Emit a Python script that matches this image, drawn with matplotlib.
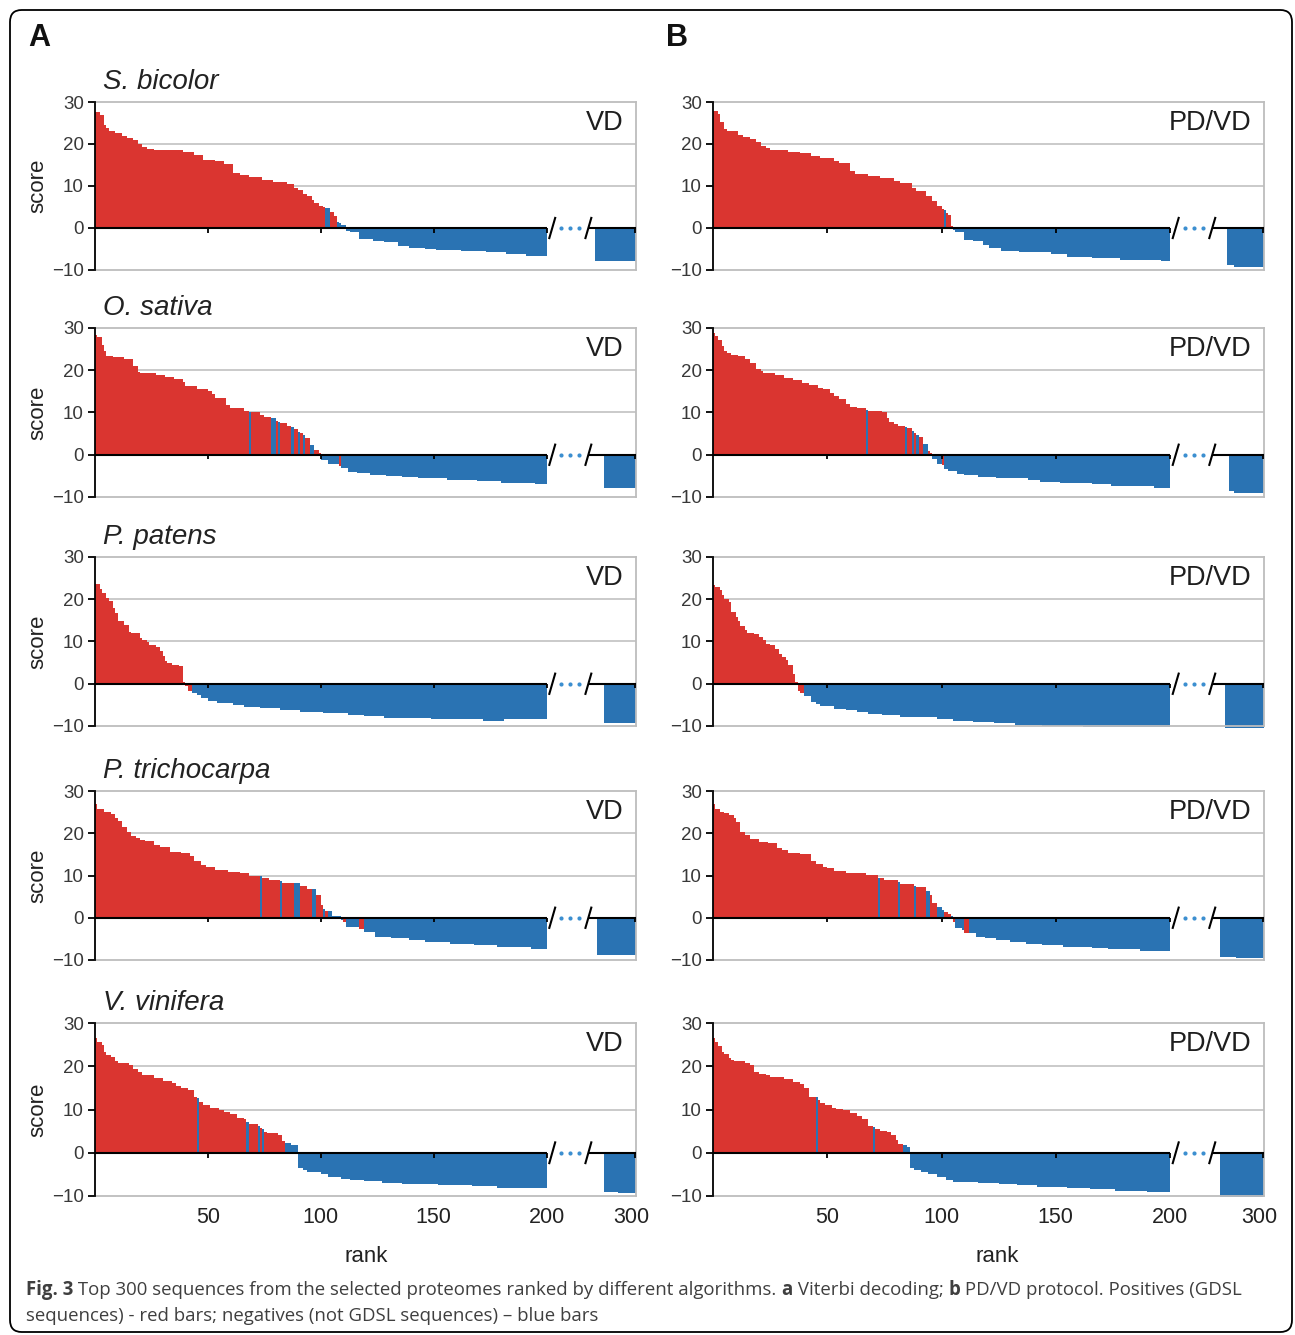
import matplotlib
matplotlib.use("Agg")
import matplotlib.pyplot as plt
import numpy as np
from matplotlib.patches import FancyBboxPatch

plt.rcParams["font.family"] = ["Liberation Sans", "DejaVu Sans"]

W, H = 1295, 1335
RED = "#DA3530"
BLUE = "#2A73B3"

species = ["S. bicolor", "O. sativa", "P. patens", "P. trichocarpa", "V. vinifera"]
methods = ["VD", "PD/VD"]
rank_ticks = [50, 100, 150, 200]
rank_labels = ["50", "100", "150", "200", "300"]
score_ticks = [-10, 0, 10, 20, 30]

# Ranked scores as steps: (last rank of step, score, 1 = GDSL / 0 = not GDSL)
sb_vd = [(2, 27.6, 1), (4, 26.9, 1), (5, 24.5, 1), (6, 23.7, 1), (9, 23.2, 1), (12, 22.6, 1),
         (14, 22.0, 1), (17, 21.4, 1), (19, 21.0, 1), (21, 20.0, 1), (23, 19.4, 1), (26, 18.8, 1),
         (39, 18.6, 1), (44, 18.0, 1), (48, 17.4, 1), (53, 16.3, 1), (57, 15.9, 1), (61, 15.3, 1),
         (64, 13.1, 1), (68, 12.7, 1), (74, 12.2, 1), (79, 11.5, 1), (85, 10.9, 1), (88, 10.4, 1),
         (90, 9.6, 1), (92, 9.0, 1), (94, 8.2, 1), (96, 7.6, 1), (97, 6.6, 1), (99, 6.0, 1),
         (101, 5.2, 1), (102, 4.9, 1), (104, 4.7, 0), (106, 3.7, 1), (107, 2.9, 1), (108, 1.4, 0),
         (109, 1.2, 0), (111, 0.6, 0), (113, -0.6, 0), (117, -1.0, 0), (123, -2.6, 0), (128, -3.0, 0),
         (134, -3.4, 0), (139, -4.2, 0), (146, -4.7, 0), (151, -5.0, 0), (162, -5.3, 0), (173, -5.5, 0),
         (182, -5.8, 0), (191, -6.2, 0), (200, -6.6, 0)]
sb_vd_tail = [(18, -7.9)]

sb_pdvd = [(2, 27.8, 1), (3, 27.2, 1), (5, 25.2, 1), (6, 23.6, 1), (7, 23.2, 1), (11, 23.0, 1),
           (13, 22.2, 1), (16, 21.6, 1), (19, 21.2, 1), (21, 20.4, 1), (23, 19.6, 1), (25, 19.0, 1),
           (33, 18.6, 1), (38, 18.2, 1), (43, 17.8, 1), (47, 17.2, 1), (53, 16.6, 1), (55, 16.0, 1),
           (60, 15.4, 1), (62, 13.5, 1), (68, 12.8, 1), (73, 12.4, 1), (79, 11.8, 1), (82, 11.2, 1),
           (87, 10.6, 1), (89, 9.6, 1), (93, 8.8, 1), (96, 7.6, 1), (98, 6.4, 1), (100, 5.2, 1),
           (101, 4.6, 1), (102, 4.2, 0), (103, 3.6, 1), (104, 3.0, 1), (105, 0.5, 1), (106, -0.5, 0),
           (110, -1.0, 0), (114, -2.8, 0), (118, -3.2, 0), (121, -4.0, 0), (126, -4.8, 0), (134, -5.4, 0),
           (148, -5.8, 0), (155, -6.2, 0), (166, -6.8, 0), (178, -7.2, 0), (196, -7.6, 0), (200, -7.9, 0)]
sb_pdvd_tail = [(3, -8.8), (13, -9.2)]

os_vd = [(1, 28.3, 1), (3, 27.8, 1), (4, 26.0, 1), (5, 24.6, 1), (8, 23.4, 1), (13, 23.2, 1),
         (17, 22.6, 1), (19, 21.0, 1), (20, 19.6, 1), (27, 19.3, 1), (31, 18.8, 1), (35, 18.3, 1),
         (39, 17.9, 1), (40, 17.2, 1), (45, 16.3, 1), (50, 15.6, 1), (52, 15.1, 1), (53, 14.3, 1),
         (58, 13.5, 1), (60, 11.7, 1), (66, 11.1, 1), (68, 10.3, 1), (69, 10.2, 0), (73, 10.1, 1),
         (75, 9.5, 1), (78, 9.0, 1), (80, 8.7, 0), (81, 7.9, 1), (82, 7.8, 0), (85, 7.5, 1),
         (87, 6.7, 1), (88, 6.5, 0), (90, 6.0, 1), (91, 5.4, 0), (92, 5.1, 1), (93, 4.7, 0),
         (95, 3.9, 1), (97, 2.4, 0), (99, 1.2, 1), (100, 0.4, 1), (103, -1.2, 0), (108, -2.1, 0),
         (109, -2.7, 1), (112, -3.2, 0), (116, -4.0, 0), (122, -4.4, 0), (129, -4.8, 0), (136, -5.0, 0),
         (143, -5.3, 0), (156, -5.6, 0), (169, -6.0, 0), (180, -6.3, 0), (195, -6.6, 0), (200, -6.9, 0)]
os_vd_tail = [(14, -7.9)]

os_pdvd = [(1, 28.8, 1), (2, 28.2, 1), (4, 27.2, 1), (5, 25.7, 1), (6, 24.5, 1), (8, 24.0, 1),
           (11, 23.7, 1), (14, 23.3, 1), (16, 22.7, 1), (19, 21.8, 1), (21, 20.2, 1), (22, 19.8, 1),
           (27, 19.4, 1), (31, 18.9, 1), (35, 18.2, 1), (39, 17.7, 1), (42, 16.9, 1), (46, 16.4, 1),
           (48, 15.9, 1), (51, 15.5, 1), (53, 14.7, 1), (55, 13.8, 1), (58, 13.2, 1), (60, 12.0, 1),
           (63, 11.4, 1), (67, 11.0, 1), (68, 10.6, 0), (74, 10.3, 1), (76, 10.0, 1), (77, 8.8, 1),
           (79, 7.7, 1), (81, 7.3, 1), (84, 6.9, 1), (85, 6.5, 0), (87, 6.3, 1), (88, 5.7, 0),
           (89, 5.2, 1), (90, 4.7, 0), (92, 4.2, 1), (94, 2.6, 0), (95, 1.0, 1), (96, 0.5, 1),
           (98, -0.9, 0), (100, -2.1, 0), (101, -2.5, 1), (103, -3.3, 0), (107, -3.9, 0), (110, -4.5, 0),
           (116, -4.9, 0), (124, -5.2, 0), (138, -5.6, 0), (143, -6.0, 0), (152, -6.4, 0), (166, -6.8, 0),
           (174, -7.0, 0), (193, -7.4, 0), (200, -7.8, 0)]
os_pdvd_tail = [(2, -8.6), (13, -9.0)]

pp_vd = [(2, 23.5, 1), (3, 22.5, 1), (5, 21.5, 1), (6, 20.2, 1), (8, 19.7, 1), (9, 17.9, 1),
         (10, 16.8, 1), (13, 14.9, 1), (15, 13.8, 1), (16, 12.3, 1), (20, 11.9, 1), (21, 10.8, 1),
         (23, 10.4, 1), (24, 9.8, 1), (27, 9.2, 1), (29, 8.6, 1), (30, 7.7, 1), (31, 6.5, 1),
         (32, 5.3, 1), (34, 4.9, 1), (37, 4.5, 1), (39, 4.3, 1), (40, 0.5, 1), (41, -0.6, 1),
         (43, -1.8, 1), (45, -2.2, 0), (47, -2.6, 0), (50, -3.4, 0), (54, -4.2, 0), (61, -4.6, 0),
         (66, -5.0, 0), (73, -5.5, 0), (82, -5.8, 0), (91, -6.3, 0), (101, -6.6, 0), (112, -7.0, 0),
         (119, -7.4, 0), (128, -7.6, 0), (149, -8.0, 0), (172, -8.3, 0), (181, -8.7, 0), (200, -8.3, 0)]
pp_vd_tail = [(14, -9.2)]

pp_pdvd = [(1, 23.4, 1), (3, 23.0, 1), (4, 22.2, 1), (5, 21.0, 1), (7, 20.1, 1), (8, 19.4, 1),
           (10, 17.1, 1), (11, 15.9, 1), (12, 14.8, 1), (14, 13.7, 1), (15, 12.7, 1), (18, 11.9, 1),
           (20, 11.7, 1), (22, 11.1, 1), (23, 10.3, 1), (25, 9.5, 1), (27, 9.1, 1), (29, 8.3, 1),
           (30, 7.1, 1), (32, 6.3, 1), (33, 5.6, 1), (35, 4.4, 1), (36, 2.4, 1), (37, 0.4, 1),
           (38, -1.6, 1), (40, -2.1, 1), (43, -2.8, 0), (45, -4.4, 0), (47, -4.8, 0), (53, -5.2, 0),
           (58, -6.0, 0), (63, -6.3, 0), (68, -6.7, 0), (74, -7.1, 0), (82, -7.5, 0), (98, -7.9, 0),
           (105, -8.3, 0), (114, -8.7, 0), (123, -9.1, 0), (132, -9.4, 0), (144, -9.7, 0),
           (162, -10.1, 0), (200, -10.3, 0)]
pp_pdvd_tail = [(17, -10.4)]

pt_vd = [(1, 26.9, 1), (4, 25.8, 1), (7, 25.1, 1), (9, 24.5, 1), (10, 23.7, 1), (12, 22.9, 1),
         (14, 21.4, 1), (16, 20.3, 1), (18, 19.4, 1), (20, 18.8, 1), (22, 18.4, 1), (26, 18.1, 1),
         (29, 17.3, 1), (33, 16.7, 1), (38, 15.5, 1), (42, 15.3, 1), (44, 14.7, 1), (47, 13.5, 1),
         (49, 12.5, 1), (53, 11.9, 1), (59, 11.2, 1), (64, 10.9, 1), (68, 10.6, 1), (73, 10.0, 1),
         (74, 10.0, 0), (77, 9.5, 1), (82, 9.0, 1), (83, 8.6, 0), (88, 8.2, 1), (91, 8.2, 0),
         (94, 7.4, 1), (96, 6.8, 1), (98, 6.8, 0), (100, 5.3, 1), (101, 2.9, 1), (102, 2.1, 0),
         (103, 1.7, 1), (105, 1.5, 0), (109, 0.4, 0), (110, -0.5, 0), (111, -0.9, 1), (117, -2.2, 0),
         (119, -2.7, 1), (124, -3.4, 0), (131, -4.6, 0), (139, -4.9, 0), (146, -5.3, 0), (157, -5.7, 0),
         (168, -6.1, 0), (178, -6.5, 0), (193, -6.9, 0), (200, -7.3, 0)]
pt_vd_tail = [(17, -8.7)]

pt_pdvd = [(1, 26.9, 1), (3, 25.8, 1), (5, 25.0, 1), (7, 24.8, 1), (9, 24.3, 1), (10, 23.5, 1),
           (12, 22.7, 1), (14, 20.3, 1), (16, 19.5, 1), (20, 18.7, 1), (24, 18.0, 1), (28, 17.6, 1),
           (30, 16.6, 1), (33, 16.1, 1), (38, 15.4, 1), (43, 15.0, 1), (45, 13.5, 1), (48, 12.7, 1),
           (50, 12.1, 1), (53, 11.7, 1), (58, 11.0, 1), (67, 10.6, 1), (72, 10.1, 1), (73, 9.5, 0),
           (75, 9.3, 1), (81, 8.9, 1), (82, 8.5, 0), (88, 7.9, 1), (89, 7.6, 0), (93, 7.2, 1),
           (95, 6.4, 0), (96, 5.4, 1), (98, 3.4, 1), (100, 2.6, 0), (101, 1.8, 0), (103, 1.4, 1),
           (104, 0.9, 1), (105, 0.4, 0), (106, -0.9, 1), (109, -2.5, 0), (110, -2.9, 0), (112, -3.5, 1),
           (115, -3.7, 0), (119, -4.5, 0), (124, -4.9, 0), (130, -5.3, 0), (137, -5.7, 0), (144, -6.1, 0),
           (153, -6.5, 0), (166, -6.9, 0), (173, -7.1, 0), (187, -7.5, 0), (200, -7.9, 0)]
pt_pdvd_tail = [(7, -9.2), (12, -9.6)]

vv_vd = [(1, 26.5, 1), (3, 25.7, 1), (4, 24.8, 1), (5, 23.2, 1), (7, 22.6, 1), (9, 22.1, 1),
         (10, 21.3, 1), (15, 20.8, 1), (17, 20.2, 1), (19, 19.4, 1), (21, 18.6, 1), (26, 18.0, 1),
         (30, 17.2, 1), (34, 16.7, 1), (36, 16.1, 1), (38, 15.5, 1), (41, 14.9, 1), (44, 14.4, 1),
         (45, 12.8, 1), (46, 12.7, 0), (48, 11.7, 1), (51, 11.1, 1), (55, 10.3, 1), (57, 10.0, 1),
         (60, 9.5, 1), (63, 9.0, 1), (66, 8.0, 1), (67, 7.7, 1), (68, 7.2, 0), (72, 6.7, 1),
         (73, 6.1, 0), (74, 5.7, 1), (75, 5.4, 0), (76, 4.8, 1), (81, 4.6, 1), (83, 4.0, 1),
         (84, 2.8, 1), (87, 2.2, 0), (90, 1.7, 0), (92, -3.5, 0), (94, -4.1, 0), (100, -4.5, 0),
         (103, -4.8, 0), (109, -5.6, 0), (113, -6.0, 0), (119, -6.4, 0), (127, -6.6, 0), (136, -6.9, 0),
         (152, -7.2, 0), (167, -7.5, 0), (178, -7.7, 0), (200, -8.1, 0)]
vv_vd_tail = [(6, -9.1), (8, -9.3)]

vv_pdvd = [(1, 26.5, 1), (2, 25.7, 1), (4, 24.6, 1), (5, 23.4, 1), (7, 22.8, 1), (8, 22.0, 1),
           (9, 21.5, 1), (14, 21.1, 1), (16, 20.7, 1), (18, 20.3, 1), (20, 18.6, 1), (23, 18.2, 1),
           (25, 18.0, 1), (28, 17.6, 1), (31, 17.4, 1), (35, 17.0, 1), (38, 16.4, 1), (40, 15.8, 1),
           (42, 15.0, 1), (45, 12.9, 1), (46, 12.8, 0), (47, 12.2, 1), (49, 11.5, 1), (52, 11.0, 1),
           (54, 10.4, 1), (57, 10.1, 1), (60, 9.8, 1), (63, 9.3, 1), (65, 8.5, 1), (68, 7.9, 1),
           (70, 6.2, 1), (71, 6.0, 0), (73, 5.4, 1), (76, 5.0, 1), (78, 4.7, 1), (80, 4.0, 1),
           (81, 2.9, 1), (83, 2.1, 1), (85, 1.7, 0), (86, 1.3, 0), (88, -3.5, 0), (91, -4.1, 0),
           (94, -4.5, 0), (98, -4.9, 0), (102, -5.7, 0), (105, -6.2, 0), (116, -6.7, 0), (125, -7.0, 0),
           (133, -7.2, 0), (142, -7.4, 0), (155, -8.0, 0), (165, -8.2, 0), (176, -8.4, 0),
           (190, -8.8, 0), (200, -9.1, 0)]
vv_pdvd_tail = [(19, -10.3)]

panel_data = [
    [(sb_vd, sb_vd_tail), (sb_pdvd, sb_pdvd_tail)],
    [(os_vd, os_vd_tail), (os_pdvd, os_pdvd_tail)],
    [(pp_vd, pp_vd_tail), (pp_pdvd, pp_pdvd_tail)],
    [(pt_vd, pt_vd_tail), (pt_pdvd, pt_pdvd_tail)],
    [(vv_vd, vv_vd_tail), (vv_pdvd, vv_pdvd_tail)],
]


def expand_steps(steps):
    scores, flags, prev = [], [], 0
    for end, score, flag in steps:
        scores += [score] * (end - prev)
        flags += [flag] * (end - prev)
        prev = end
    return np.array(scores), np.array(flags)


def expand_tail(tail):
    vals = []
    for count, score in tail:
        vals += [score] * count
    return np.array(vals)


fig = plt.figure(figsize=(W / 100, H / 100), dpi=100)

# panel geometry in pixels
col_left = [95, 713]
col_xmax = [239.5, 241.0]
col_scale = [2.258, 2.285]
row_top = [102, 328, 557, 791, 1023]
row_bottom = [270, 497, 726, 960, 1196]


def add_px_axes(left, top, right, bottom):
    return fig.add_axes([left / W, 1 - bottom / H, (right - left) / W, (bottom - top) / H])


for r in range(5):
    for c in range(2):
        xmax = col_xmax[c]
        left = col_left[c]
        right = left + xmax * col_scale[c]
        ax = add_px_axes(left, row_top[r], right, row_bottom[r])
        steps, tail = panel_data[r][c]
        scores, flags = expand_steps(steps)
        tail_vals = expand_tail(tail)

        x_main = np.arange(len(scores)) + 0.5
        cols = [RED if f else BLUE for f in flags]
        ax.bar(x_main, scores, width=1.0, color=cols, linewidth=0, antialiased=False,
               zorder=2, clip_on=False)
        x_tail = xmax - len(tail_vals) + 0.5 + np.arange(len(tail_vals))
        ax.bar(x_tail, tail_vals, width=1.0, color=BLUE, linewidth=0, antialiased=False,
               zorder=2, clip_on=False)

        ax.set_xlim(0, xmax)
        ax.set_ylim(-10, 30)
        for yg in (10, 20):
            ax.axhline(yg, color="#C6C6C6", lw=1.3, zorder=0)
        for side in ("top", "right", "bottom"):
            ax.spines[side].set_color("#BDBDBD")
            ax.spines[side].set_linewidth(1.3)
        ax.spines["left"].set_color("black")
        ax.spines["left"].set_linewidth(1.3)
        ax.spines["left"].set_zorder(4)

        # zero axis with break
        ax.plot([0, 200], [0, 0], color="black", lw=1.5, zorder=3, solid_capstyle="butt")
        ax.plot([218.5, xmax], [0, 0], color="black", lw=1.5, zorder=3, solid_capstyle="butt")
        ax.vlines(rank_ticks + [xmax - 0.2], -1.1, 0, color="black", lw=1.3, zorder=3)
        for xs in (202.5, 218.5):
            ax.plot([xs - 1.3, xs + 1.3], [-2.4, 2.4], color="black", lw=1.5, zorder=4,
                    clip_on=False)
        ax.plot([206.5, 210.5, 214.5], [0, 0, 0], "o", ms=3.0, color="#3C8FD0",
                mec="none", zorder=4)

        ax.set_yticks(score_ticks)
        ax.tick_params(axis="y", direction="out", length=5, width=1.3, color="black",
                       labelsize=13.5, labelcolor="#383838", pad=3)
        if r == 4:
            ax.set_xticks(rank_ticks + [xmax - 1.8])
            ax.set_xticklabels(rank_labels)
            ax.tick_params(axis="x", length=0, pad=8, labelsize=15.5, labelcolor="#222222")
        else:
            ax.set_xticks([])

        w_px = right - left
        h_px = row_bottom[r] - row_top[r]
        ax.text(1 - 12 / w_px, 1 - 21 / h_px, methods[c], transform=ax.transAxes,
                ha="right", va="center", fontsize=19.5, color="#1e1e1e")

        if c == 0:
            fig.text(103 / W, 1 - (row_top[r] - 20) / H, species[r], ha="left", va="center",
                     fontsize=20, style="italic", color="#222222")
            fig.text(38 / W, 1 - (row_top[r] + row_bottom[r]) / 2 / H, "score", rotation=90,
                     ha="center", va="center", fontsize=16, color="#222222")

fig.text(366 / W, 1 - 1257 / H, "rank", ha="center", va="center", fontsize=16, color="#222222")
fig.text(997 / W, 1 - 1257 / H, "rank", ha="center", va="center", fontsize=16, color="#222222")
fig.text(39 / W, 1 - 38 / H, "A", ha="center", va="center", fontsize=22, fontweight="bold",
         color="#111111")
fig.text(677 / W, 1 - 38 / H, "B", ha="center", va="center", fontsize=22, fontweight="bold",
         color="#111111")

# caption with bold pieces
renderer = fig.canvas.get_renderer()
cap_font = dict(fontsize=13.4, color="#3f3f3f", family=["Open Sans", "DejaVu Sans"])
lines = [
    [("Fig. 3", "bold"), (" Top 300 sequences from the selected proteomes ranked by different algorithms. ", "light"),
     ("a", "bold"), (" Viterbi decoding; ", "light"), ("b", "bold"),
     (" PD/VD protocol. Positives (GDSL", "light")],
    [("sequences) - red bars; negatives (not GDSL sequences) \u2013 blue bars", "light")],
]
line_y = [1290, 1316]
for pieces, yy in zip(lines, line_y):
    x = 26
    for txt, wt in pieces:
        t = fig.text(x / W, 1 - yy / H, txt, ha="left", va="center",
                     fontweight="bold" if wt == "bold" else "normal", **cap_font)
        bb = t.get_window_extent(renderer=renderer)
        x += bb.width

border = FancyBboxPatch((10 / W, 3 / H), 1282 / W, 1322 / H,
                        boxstyle="round,pad=0,rounding_size=0.009",
                        transform=fig.transFigure, fill=False, ec="black", lw=1.3)
fig.patches.append(border)

fig.savefig("out.png", dpi=100)
